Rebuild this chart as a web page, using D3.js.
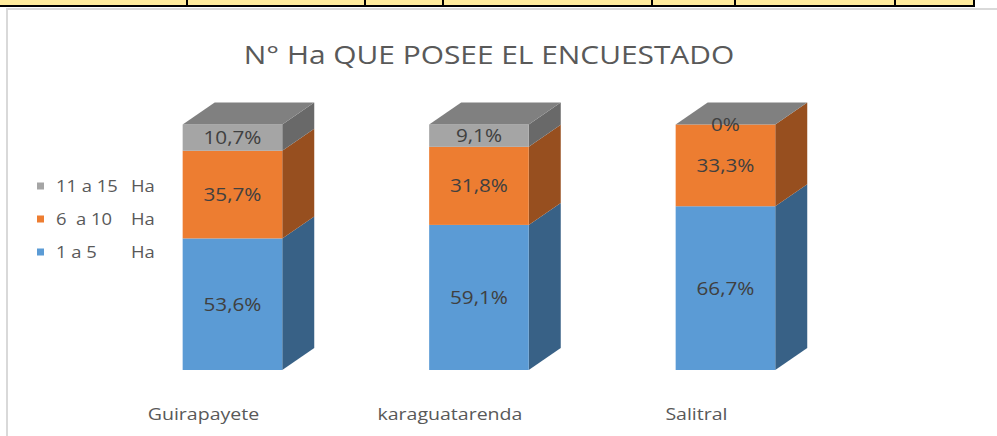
<!DOCTYPE html>
<html>
<head>
<meta charset="utf-8">
<script src="https://cdn.jsdelivr.net/npm/d3@7"></script>
<style>
  html, body { margin: 0; padding: 0; background: #ffffff; }
  svg { display: block; font-family: "Open Sans", sans-serif; }
</style>
</head>
<body>
<svg id="my-svg" width="997" height="436"></svg>
<script>
// chart values
const categories = ["Guirapayete", "karaguatarenda", "Salitral"];
const seriesKeys = ["s1a5", "s6a10", "s11a15"];
const seriesNames = ["1 a 5", "6  a 10", "11 a 15"];
const seriesUnit = "Ha";
const values1a5 = [53.6, 59.1, 66.7];
const values6a10 = [35.7, 31.8, 33.3];
const values11a15 = [10.7, 9.1, 0];
const chartTitle = "N° Ha QUE POSEE EL ENCUESTADO";

const svg = d3.select('svg');
const textStretch = 1.15;

const frontColors = {s1a5: '#5b9bd5', s6a10: '#ed7d31', s11a15: '#a5a5a5'};
const sideColors = {s1a5: '#386186', s6a10: '#974f1f', s11a15: '#696969'};
const topColors = {s1a5: '#4a80b0', s6a10: '#c26628', s11a15: '#808080'};

const table = categories.map((c, i) => ({
    cat: c,
    s1a5: values1a5[i],
    s6a10: values6a10[i],
    s11a15: values11a15[i]
}));

const stacked = d3.stack().keys(seriesKeys)(table);

const xScale = d3.scaleBand()
    .domain(categories)
    .range([109.2, 848.7])
    .paddingInner(0.596)
    .paddingOuter(0.298);

const yScale = d3.scaleLinear()
    .domain([0, 100])
    .range([370, 124.5]);

const depth = {dx: 32, dy: -22};

const placeText = (sel, x, y) => sel
    .attr('transform', `translate(${x}, ${y}) scale(${textStretch}, 1)`);

const fmtPct = (v) => v === 0 ? '0%' : v.toFixed(1).replace('.', ',') + '%';

// spreadsheet strip above the chart
const strip = svg.append('g');
strip.append('rect').attr('x', 0).attr('y', 0).attr('width', 975).attr('height', 6).attr('fill', '#ffeb9c');
strip.append('rect').attr('x', 0).attr('y', 5).attr('width', 975).attr('height', 2).attr('fill', '#000');
[187, 365, 443, 652, 735, 895, 974].forEach((x) => {
    strip.append('rect').attr('x', x - 1).attr('y', 0).attr('width', 2).attr('height', 7).attr('fill', '#000');
});

// chart area border
svg.append('rect')
    .attr('x', 7).attr('y', 9)
    .attr('width', 1000).attr('height', 440)
    .attr('fill', '#ffffff')
    .attr('stroke', '#d9d9d9')
    .attr('stroke-width', 2);

// title
placeText(svg.append('text'), 489, 64)
    .attr('text-anchor', 'middle')
    .attr('font-size', 26)
    .attr('fill', '#595959')
    .text(chartTitle);

// 3D bars
const g = svg.append('g');
const bw = xScale.bandwidth();

categories.forEach((cat, ci) => {
    const x0 = xScale(cat);
    const x1 = x0 + bw;
    stacked.forEach((layer, li) => {
        const d = layer[ci];
        const yb = yScale(d[0]);
        const yt = yScale(d[1]);
        const key = layer.key;
        // side face
        g.append('path')
            .attr('d', `M${x1},${yb}L${x1 + depth.dx},${yb + depth.dy}L${x1 + depth.dx},${yt + depth.dy}L${x1},${yt}Z`)
            .attr('fill', sideColors[key]);
        // front face
        g.append('rect')
            .attr('x', x0).attr('y', yt)
            .attr('width', bw).attr('height', yb - yt)
            .attr('fill', frontColors[key]);
        // top face only on the top segment
        if (li === stacked.length - 1) {
            g.append('path')
                .attr('d', `M${x0},${yt}L${x1},${yt}L${x1 + depth.dx},${yt + depth.dy}L${x0 + depth.dx},${yt + depth.dy}Z`)
                .attr('fill', topColors[key]);
        }
    });
    // data labels
    stacked.forEach((layer) => {
        const d = layer[ci];
        const ym = (yScale(d[0]) + yScale(d[1])) / 2;
        placeText(g.append('text'), x0 + bw / 2, ym + 6.5)
            .attr('text-anchor', 'middle')
            .attr('font-size', 18)
            .attr('fill', '#404040')
            .text(fmtPct(d[1] - d[0]));
    });
});

// category labels
categories.forEach((cat) => {
    placeText(svg.append('text'), xScale(cat) + bw / 2 - 29, 420)
        .attr('text-anchor', 'middle')
        .attr('font-size', 17)
        .attr('fill', '#595959')
        .text(cat);
});

// legend (top entry = last series)
const legendRows = seriesKeys.map((k, i) => ({key: k, name: seriesNames[i]})).reverse();
const legend = svg.append('g');
legendRows.forEach((r, i) => {
    const cy = 186 + i * 33;
    legend.append('rect')
        .attr('x', 37).attr('y', cy - 3.5)
        .attr('width', 7).attr('height', 7)
        .attr('fill', frontColors[r.key]);
    placeText(legend.append('text'), 56, cy + 5.5)
        .attr('font-size', 16)
        .attr('fill', '#595959')
        .style('white-space', 'pre')
        .text(r.name);
    placeText(legend.append('text'), 131, cy + 5.5)
        .attr('font-size', 16)
        .attr('fill', '#595959')
        .text(seriesUnit);
});
</script>
</body>
</html>
